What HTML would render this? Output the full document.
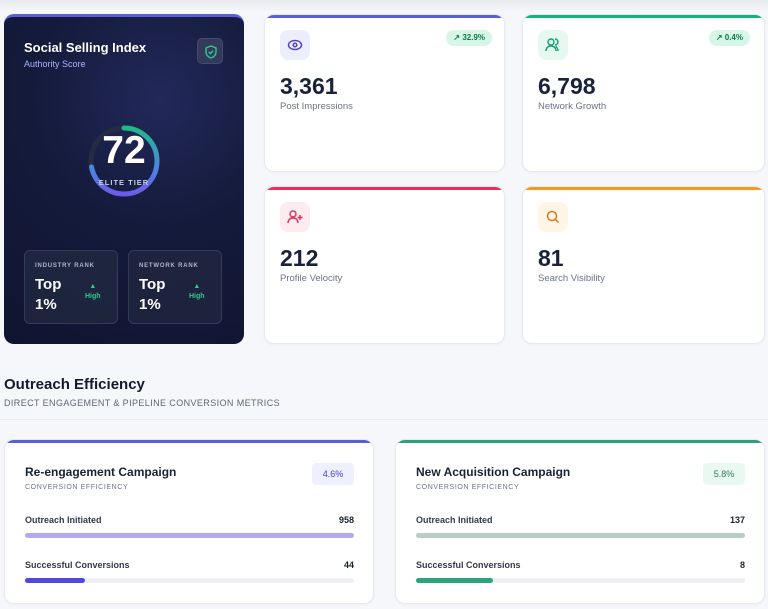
<!DOCTYPE html>
<html><head><meta charset="utf-8"><style>
*{box-sizing:border-box;margin:0;padding:0}
body{width:768px;height:609px;overflow:hidden;background:#f6f7fa;font-family:"Liberation Sans",sans-serif;position:relative;color:#1a2236}
.abs{position:absolute}
.card{position:absolute;background:#fff;border-radius:10px;border:1px solid #e6e9ef;box-shadow:0 1px 3px rgba(0,0,0,.04);overflow:hidden}
.card .top{position:absolute;left:0;top:0;right:0;height:3px}
.ico{position:absolute;left:15px;top:15px;width:30px;height:30px;border-radius:8px}
.big{position:absolute;left:15px;font-size:23px;font-weight:bold;color:#18223a}
.lbl{position:absolute;left:15px;font-size:9.5px;color:#6b7385}
.pill{position:absolute;top:15px;height:16px;border-radius:8px;background:#d6f6e6;color:#0f7a4b;font-size:8px;font-weight:bold;line-height:16px;padding:0 7px}
</style></head><body>
<div class="abs" style="left:0;top:0;width:768px;height:12px;background:linear-gradient(#e9eaed,#f6f7fa)"></div>

<div class="abs" style="left:4px;top:14px;width:240px;height:330px;border-radius:10px;background:radial-gradient(circle at 65% 25%,#22295a 0%,#141a3a 45%,#0f1530 100%);border-top:3px solid #5b5fd6;overflow:hidden">
 <div class="abs" style="left:20px;top:23px;color:#fff;font-weight:bold;font-size:13px">Social Selling Index</div>
 <div class="abs" style="left:20px;top:42px;color:#a9b2ff;font-size:9px">Authority Score</div>
 <div class="abs" style="left:193px;top:21px;width:26px;height:26px;border-radius:5px;background:#343a5c;border:1px solid #454b6e">
  <svg width="26" height="26" viewBox="0 0 26 26"><path d="M13 7l5 2v4c0 3-2.2 5-5 6-2.8-1-5-3-5-6V9z" fill="none" stroke="#2fc98f" stroke-width="1.4"/><path d="M10.8 13l1.6 1.6 2.8-2.8" fill="none" stroke="#2fc98f" stroke-width="1.4"/></svg>
 </div>
 <svg class="abs" style="left:80px;top:104px" width="80" height="80">
  <defs><linearGradient id="g" x1="1" y1="0" x2="0" y2="0"><stop offset="0" stop-color="#1fb98a"/><stop offset=".6" stop-color="#4a86e0"/><stop offset="1" stop-color="#6b5ce8"/></linearGradient></defs>
  <circle cx="40" cy="40" r="33" fill="none" stroke="#252b45" stroke-width="5"/>
  <circle id="arc" cx="40" cy="40" r="33" fill="none" stroke="url(#g)" stroke-width="5" stroke-linecap="round" transform="rotate(-90 40 40)"/>
 </svg>
 <div class="abs" style="left:80px;top:112px;width:80px;text-align:center;color:#fff;font-weight:bold;font-size:39px">72</div>
 <div class="abs" style="left:80px;top:161px;width:80px;text-align:center;color:#c8cde8;font-size:7.5px;font-weight:bold;letter-spacing:1px">ELITE TIER</div>
 <div class="abs" style="left:20px;top:233px;width:94px;height:74px;border-radius:6px;background:rgba(40,50,70,.55);border:1px solid #343b55">
  <div class="abs" style="left:10px;top:12px;font-size:6px;font-weight:bold;color:#aeb5cc;letter-spacing:.8px">INDUSTRY RANK</div>
  <div class="abs" style="left:10px;top:24px;font-size:15px;font-weight:bold;color:#fff;line-height:20px">Top<br>1%</div>
  <div class="abs" style="left:60px;top:31px;font-size:7px;font-weight:bold;color:#2fc98f;text-align:center;line-height:10px">▲<br>High</div>
 </div>
 <div class="abs" style="left:124px;top:233px;width:94px;height:74px;border-radius:6px;background:rgba(40,46,68,.55);border:1px solid #343b55">
  <div class="abs" style="left:10px;top:12px;font-size:6px;font-weight:bold;color:#aeb5cc;letter-spacing:.8px">NETWORK RANK</div>
  <div class="abs" style="left:10px;top:24px;font-size:15px;font-weight:bold;color:#fff;line-height:20px">Top<br>1%</div>
  <div class="abs" style="left:60px;top:31px;font-size:7px;font-weight:bold;color:#2fc98f;text-align:center;line-height:10px">▲<br>High</div>
 </div>
</div>

<div class="card" style="left:264px;top:14px;width:241px;height:158px">
 <div class="top" style="background:#5b5fd6"></div>
 <div class="ico" style="background:#eceefe"><svg width="30" height="30"><ellipse cx="15" cy="15" rx="6.5" ry="4.5" fill="none" stroke="#4f46c8" stroke-width="1.5"/><circle cx="15" cy="15" r="1.8" fill="none" stroke="#4f46c8" stroke-width="1.5"/></svg></div>
 <div class="pill" style="right:12px">↗ 32.9%</div>
 <div class="big" style="top:58px">3,361</div>
 <div class="lbl" style="top:86px">Post Impressions</div>
</div>
<div class="card" style="left:522px;top:14px;width:243px;height:158px">
 <div class="top" style="background:#12b27a"></div>
 <div class="ico" style="background:#e6f8f0"><svg width="30" height="30"><circle cx="13" cy="12" r="3" fill="none" stroke="#13a06d" stroke-width="1.4"/><path d="M8 21c0-3 2-5 5-5s5 2 5 5M17 9a3 3 0 010 6M20 21c0-2-1-4-2.5-4.5" fill="none" stroke="#13a06d" stroke-width="1.4"/></svg></div>
 <div class="pill" style="right:14px">↗ 0.4%</div>
 <div class="big" style="top:58px">6,798</div>
 <div class="lbl" style="top:86px">Network Growth</div>
</div>
<div class="card" style="left:264px;top:186px;width:241px;height:158px">
 <div class="top" style="background:#e8315a"></div>
 <div class="ico" style="background:#fdecef"><svg width="30" height="30"><circle cx="13" cy="12" r="3" fill="none" stroke="#e0305a" stroke-width="1.4"/><path d="M8 21c0-3 2-5 5-5s5 2 5 5M20 13v5M17.5 15.5h5" fill="none" stroke="#e0305a" stroke-width="1.4"/></svg></div>
 <div class="big" style="top:58px">212</div>
 <div class="lbl" style="top:86px">Profile Velocity</div>
</div>
<div class="card" style="left:522px;top:186px;width:243px;height:158px">
 <div class="top" style="background:#f29a1f"></div>
 <div class="ico" style="background:#fdf6e6"><svg width="30" height="30"><circle cx="14" cy="14" r="4.5" fill="none" stroke="#d9791a" stroke-width="1.5"/><path d="M17.5 17.5l3 3" stroke="#d9791a" stroke-width="1.5"/></svg></div>
 <div class="big" style="top:58px">81</div>
 <div class="lbl" style="top:86px">Search Visibility</div>
</div>

<div class="abs" style="left:4px;top:376px;font-size:15px;font-weight:bold;color:#111a2e">Outreach Efficiency</div>
<div class="abs" style="left:4px;top:398px;font-size:9px;color:#5d6679;letter-spacing:.4px">DIRECT ENGAGEMENT &amp; PIPELINE CONVERSION METRICS</div>
<div class="abs" style="left:0;top:419px;width:768px;height:1px;background:#e8eaee"></div>

<div id="camps"></div>
<script>
const campaignNames=["Re-engagement Campaign","New Acquisition Campaign"];
const outreach=[958,137];
const conversions=[44,8];
const rates=["4.6%","5.8%"];
const boxes=[{l:4,w:370,c:"#5b5fd6",pill:"#eef0fd",pc:"#4338ca",t1:"#b3aaf0",f:"#4f46e5",trk:"#eeeef3"},{l:395,w:370,c:"#2e9e7a",pill:"#eaf8f2",pc:"#2e7d62",t1:"#b5cfc7",f:"#2aa57c",trk:"#eeeef3"}];
const host=document.getElementById('camps');
campaignNames.forEach((n,i)=>{
 const b=boxes[i];
 const d=document.createElement('div');
 
 
 d.className='card';
 d.style.cssText=`left:${b.l}px;top:439px;width:${b.w}px;height:165px`;
 const rate=conversions[i]/outreach[i];
 const fill=Math.min(1,rate*4)*100;
 d.innerHTML=`<div class="top" style="background:${b.c}"></div>
 <div class="abs" style="left:20px;top:25px;font-size:12px;font-weight:bold;color:#1a2236">${n}</div>
 <div class="abs" style="left:20px;top:44px;font-size:7px;color:#6b7385;letter-spacing:.6px">CONVERSION EFFICIENCY</div>
 <div class="abs" style="right:19px;top:23px;width:42px;height:22px;border-radius:4px;background:${b.pill};color:${b.pc};font-size:9px;line-height:22px;text-align:center">${rates[i]}</div>
 <div class="abs" style="left:20px;top:75px;font-size:9px;font-weight:bold;color:#333a4a">Outreach Initiated</div>
 <div class="abs" style="right:19px;top:75px;font-size:9px;font-weight:bold">${outreach[i]}</div>
 <div class="abs" style="left:20px;top:93px;right:19px;height:5px;border-radius:3px;background:${b.t1}"></div>
 <div class="abs" style="left:20px;top:120px;font-size:9px;font-weight:bold;color:#333a4a">Successful Conversions</div>
 <div class="abs" style="right:19px;top:120px;font-size:9px;font-weight:bold">${conversions[i]}</div>
 <div class="abs" style="left:20px;top:138px;right:19px;height:5px;border-radius:3px;background:${b.trk}"><div style="width:${fill}%;height:5px;border-radius:3px;background:${b.f}"></div></div>`;
 host.appendChild(d);
});
const score=[72];
const arc=document.getElementById('arc');
const C=2*Math.PI*33;
arc.setAttribute('stroke-dasharray',`${C*score[0]/100} ${C}`);
</script>
</body></html>
